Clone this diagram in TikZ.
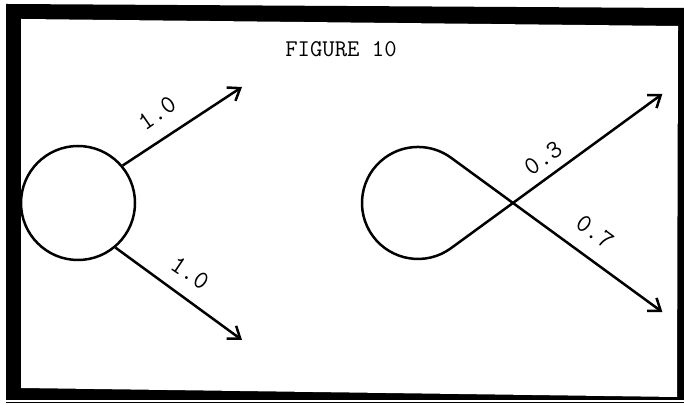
\documentclass[tikz,border=0pt]{standalone}
\usetikzlibrary{arrows.meta}
\begin{document}
\begin{tikzpicture}[x=0.5pt,y=0.5pt,
  line width=1.25pt,
  arr/.style={-{Straight Barb[length=5.5pt,width=8pt]}},
  barr/.style={{Straight Barb[length=5.5pt,width=8pt]}-{Straight Barb[length=5.5pt,width=8pt]}},
  lbl/.style={font=\ttfamily\fontsize{13}{15}\selectfont, inner sep=0pt},
  ttl/.style={font=\ttfamily\fontsize{12}{14}\selectfont, inner sep=0pt}]
% background and frame
\fill[white] (0,0) rectangle (684,405);
\useasboundingbox (0,0) rectangle (684,405);
\fill[black] (6,401) -- (684,397) -- (684,0) -- (6,5) -- cycle;
\fill[white] (21,386) -- (678,379) -- (677,8) -- (21,17) -- cycle;
\fill[white] (0,4.5) -- (684,4.5) -- (684,0) -- (0,0) -- cycle;
\draw[line width=0.8pt] (6,2.5) -- (684,2.5);
% title
\node[ttl] (title) at (341,355.5) {FIGURE 10};
% left circle
\node[draw, circle, minimum size=57pt, inner sep=0pt] (c) at (78,202) {};
\coordinate (lu) at (242,318);
\coordinate (ll) at (242,65);
\draw[arr] (c.40) -- (lu);
\draw[arr] (c.-50) -- (ll);
\node[lbl, rotate=35] (l1) at (157,292) {1.0};
\node[lbl, rotate=-34] (l2) at (190,132) {1.0};
% right loop
\coordinate (C) at (418,202);
\coordinate (X) at (513,202);
\coordinate (ru) at (662.4,311.1);
\coordinate (rb) at (451.0,156.8);
\coordinate (rl) at (662.4,92.9);
\draw[barr] (ru) -- (rb) arc[start angle=-53.88, end angle=-306.12, radius=28pt] -- (rl);
\node[lbl, rotate=35] (l3) at (543,247) {0.3};
\node[lbl, rotate=-36] (l4) at (595,173) {0.7};
\end{tikzpicture}
\end{document}
